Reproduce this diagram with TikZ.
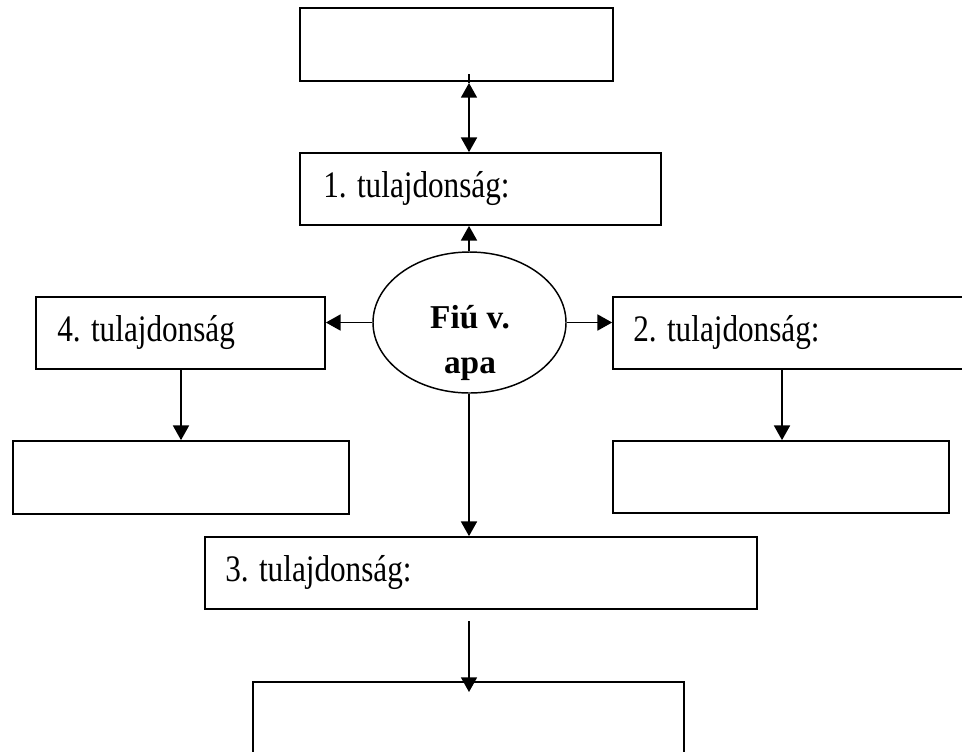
\documentclass[tikz,border=0pt]{standalone}
\usepackage{fontspec}
\setmainfont{Liberation Serif}
\usetikzlibrary{arrows.meta,shapes.geometric,calc}
\newcommand{\tallt}[1]{\scalebox{1}[1.2]{#1}}
\begin{document}
\begin{tikzpicture}[x=0.75pt,y=-0.75pt,
  box/.style={draw,line width=1.3pt,rectangle,inner sep=0pt,minimum height=54pt},
  oval/.style={draw,line width=1.1pt,ellipse,inner sep=0pt,minimum width=144.75pt,minimum height=105.75pt},
  lbl/.style={anchor=base west,inner sep=0pt,font=\fontsize{23.4}{28}\selectfont},
  blbl/.style={anchor=base,inner sep=0pt,font=\fontsize{25}{29}\selectfont\bfseries},
  conn/.style={line width=1.2pt},
  arr/.style={conn,-{Triangle[length=11pt,width=12pt]}},
  darr/.style={conn,{Triangle[length=11pt,width=12pt]}-{Triangle[length=11pt,width=12pt]}}
]
\useasboundingbox (0,0) rectangle (962,751);
% boxes
\node[box,minimum width=234.75pt,minimum height=54.75pt] (top) at (456.5,44.5) {};
\node[box,minimum width=270.75pt] (b1) at (480.5,189) {};
\node[box,minimum width=216.75pt] (b4) at (180.5,333) {};
\node[box,minimum width=252pt,minimum height=54.75pt] (b4b) at (181,477.5) {};
\node[box,minimum width=279pt] (b2) at (799,333) {};
\node[box,minimum width=252pt] (b2b) at (781,477) {};
\node[box,minimum width=414pt] (b3) at (481,573) {};
\node[box,minimum width=323.25pt,minimum height=88.5pt] (b3b) at (468.5,741) {};
\node[oval] (e) at (469.5,322.5) {};
% labels
\node[lbl] (t1) at (323,197) {\tallt{1. tulajdonság:}};
\node[lbl] (t4) at (57,341) {\tallt{4. tulajdonság}};
\node[lbl] (t2) at (633,341) {\tallt{2. tulajdonság:}};
\node[lbl] (t3) at (225,581) {\tallt{3. tulajdonság:}};
\node[blbl] (e1) at (470,328) {Fiú v.};
\node[blbl] (e2) at (470,373) {apa};
% connectors
\coordinate (d0) at (469,74);
\coordinate (d1) at (469,83);
\draw[conn] (d0) -- (d1);
\draw[darr] (d1) -- (d1 |- b1.north);
\draw[arr] (e.north -| d1) -- (d1 |- b1.south);
\draw[arr] (e.west) -- (e.west -| b4.east);
\draw[arr] (e.east) -- (e.east -| b2.west);
\draw[arr] (b4.south -| b4b.north) -- (b4b.north);
\coordinate (r0) at (782,369);
\draw[arr] (r0) -- (r0 |- b2b.north);
\draw[arr] (e.south -| d1) -- (d1 |- b3.north);
\coordinate (s0) at (469,621);
\coordinate (s1) at (469,692);
\draw[arr] (s0) -- (s1);
\end{tikzpicture}
\end{document}
